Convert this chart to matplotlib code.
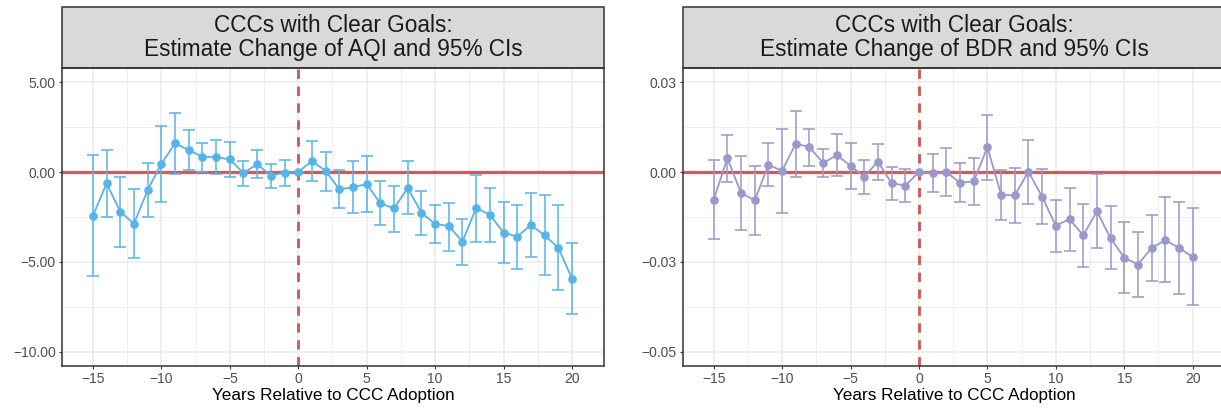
import numpy as np
import matplotlib
matplotlib.use('Agg')
import matplotlib.pyplot as plt
from matplotlib.patches import Rectangle

plt.rcParams['font.family'] = ['Liberation Sans', 'DejaVu Sans']

years = list(range(-15, 21))

aqi_est = [-2.43, -0.63, -2.22, -2.87, -1.00, 0.46, 1.59, 1.22, 0.85, 0.83, 0.70, -0.06,
           0.44, -0.20, -0.04, 0.00, 0.61, 0.06, -0.96, -0.85, -0.67, -1.74, -2.02, -0.89,
           -2.26, -2.89, -3.00, -3.87, -2.00, -2.37, -3.37, -3.59, -2.94, -3.52, -4.20, -5.93]
aqi_hi = [0.94, 1.24, -0.30, -0.96, 0.50, 2.57, 3.30, 2.35, 1.63, 1.76, 1.65, 0.63,
          1.24, 0.46, 0.69, 0.00, 1.74, 1.11, 0.13, 0.59, 0.89, -0.52, -0.76, 0.59,
          -1.04, -1.81, -1.70, -2.59, -0.15, -0.87, -1.69, -1.83, -1.15, -1.30, -1.85, -3.96]
aqi_lo = [-5.78, -2.50, -4.15, -4.78, -2.50, -1.67, -0.13, 0.11, 0.02, -0.13, -0.28, -0.76,
          -0.31, -0.91, -0.76, 0.00, -0.50, -1.06, -2.00, -2.26, -2.22, -2.96, -3.31, -2.35,
          -3.52, -3.96, -4.37, -5.15, -3.89, -3.89, -5.06, -5.37, -4.72, -5.74, -6.56, -7.91]

bdr_est = [-0.0077, 0.0038, -0.0058, -0.0079, 0.0020, 0.0003, 0.0079, 0.0069, 0.0025,
           0.0047, 0.0017, -0.0013, 0.0029, -0.0031, -0.0038, 0.0000, -0.0004, 0.0000,
           -0.0030, -0.0026, 0.0069, -0.0063, -0.0065, 0.0001, -0.0069, -0.0149, -0.0131,
           -0.0176, -0.0109, -0.0184, -0.0238, -0.0257, -0.0211, -0.0189, -0.0211, -0.0236]
bdr_hi = [0.0033, 0.0103, 0.0045, 0.0018, 0.0081, 0.0119, 0.0169, 0.0120, 0.0064,
          0.0106, 0.0081, 0.0033, 0.0079, 0.0015, 0.0009, 0.0000, 0.0049, 0.0066,
          0.0024, 0.0040, 0.0158, 0.0006, 0.0011, 0.0089, 0.0007, -0.0077, -0.0044,
          -0.0088, -0.0006, -0.0095, -0.0139, -0.0167, -0.0119, -0.0069, -0.0083, -0.0100]
bdr_lo = [-0.0187, -0.0029, -0.0162, -0.0175, -0.0039, -0.0114, -0.0013, 0.0017, -0.0014,
          -0.0010, -0.0046, -0.0060, -0.0021, -0.0079, -0.0084, 0.0000, -0.0056, -0.0067,
          -0.0082, -0.0093, -0.0022, -0.0132, -0.0143, -0.0089, -0.0145, -0.0222, -0.0219,
          -0.0265, -0.0210, -0.0270, -0.0337, -0.0347, -0.0302, -0.0305, -0.0340, -0.0370]

aqi_yticks = [5, 0, -5, -10]
aqi_ylabels = ['5.00', '0.00', '\u22125.00', '\u221210.00']
bdr_yticks = [0.025, 0, -0.025, -0.05]
bdr_ylabels = ['0.03', '0.00', '\u22120.03', '\u22120.05']
xticks = [-15, -10, -5, 0, 5, 10, 15, 20]
xlabels = ['\u221215', '\u221210', '\u22125', '0', '5', '10', '15', '20']

fig = plt.figure(figsize=(12.21, 4.11), dpi=100)

strip_h = 61 / 298


def panel(rect, est, lo, hi, color, ylim, yticks, ylabels, ystep, xlim, title):
    ax = fig.add_axes(rect)

    # grid: majors and the minors between them
    ax.set_xticks(xticks)
    ax.set_xticklabels(xlabels)
    ax.set_xticks([x + 2.5 for x in xticks[:-1]] + [-17.5, 22.5], minor=True)
    ax.set_yticks(yticks)
    ax.set_yticklabels(ylabels)
    ax.set_yticks([y - ystep / 2 for y in yticks[:-1]] + [yticks[0] + ystep / 2], minor=True)
    # limits go last, tick setters would widen them
    ax.set_xlim(*xlim)
    ax.set_ylim(*ylim)

    ax.grid(which='major', color='#EBEBEB', lw=1.1, zorder=0)
    ax.grid(which='minor', color='#EBEBEB', lw=0.55, zorder=0)
    ax.set_axisbelow(True)
    ax.tick_params(which='minor', length=0)
    ax.tick_params(which='major', length=2.5, width=0.8, color='#333333',
                   labelsize=10, labelcolor='#4D4D4D', pad=2)
    for s in ax.spines.values():
        s.set_color('#333333')
        s.set_linewidth(1.1)

    ax.axhline(0, color='#CD5C5C', lw=2.3, zorder=2)
    ax.axvline(0, color='#CD5C5C', lw=2.1, ls=(0, (3.2, 2.6)), zorder=2)

    est = np.array(est)
    err = [est - np.array(lo), np.array(hi) - est]
    ax.errorbar(years, est, yerr=err, fmt='none', ecolor=color, elinewidth=1.1,
                capsize=4.2, capthick=1.1, zorder=3)
    ax.plot(years, est, '-o', color=color, lw=1.3, ms=5.2, zorder=4)

    ax.set_xlabel('Years Relative to CCC Adoption', fontsize=12.3, color='black', labelpad=1)

    ax.add_patch(Rectangle((0, 1), 1, strip_h, transform=ax.transAxes, clip_on=False,
                           facecolor='#D9D9D9', edgecolor='#333333', lw=1.1))
    ax.text(0.5, 1 + strip_h / 2, title, transform=ax.transAxes, ha='center', va='center',
            fontsize=16.3, color='#1A1A1A', linespacing=1.05)
    return ax


w = 542 / 1221
h = 298 / 411
b = 45 / 411
panel([62 / 1221, b, w, h], aqi_est, aqi_lo, aqi_hi, '#56B4E9',
      (-10.78, 5.78), aqi_yticks, aqi_ylabels, 5, (-17.26, 22.34),
      'CCCs with Clear Goals:\nEstimate Change of AQI and 95% CIs')
panel([683 / 1221, b, w, h], bdr_est, bdr_lo, bdr_hi, '#9999CC',
      (-0.05389, 0.02889), bdr_yticks, bdr_ylabels, 0.025, (-17.24, 22.36),
      'CCCs with Clear Goals:\nEstimate Change of BDR and 95% CIs')

fig.savefig('out.png', dpi=100)
